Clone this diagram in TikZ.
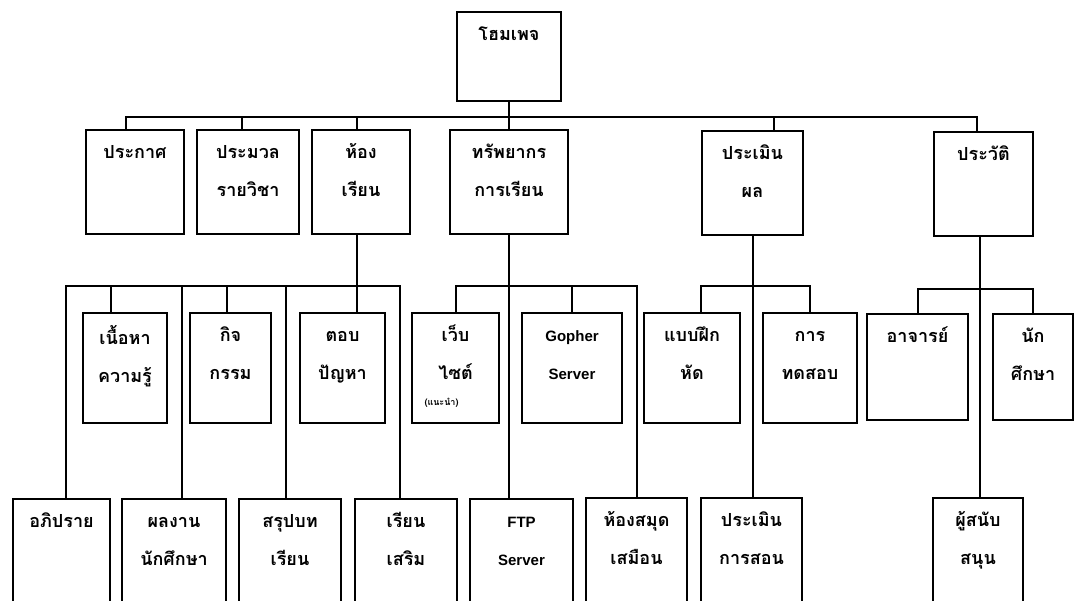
\documentclass[tikz,border=0pt]{standalone}
\usepackage{fontspec}
\setmainfont{Liberation Sans}
\newfontfamily\thaifont[Script=Thai]{Loma}
\usetikzlibrary{calc,positioning,fit}

\newcommand{\topstrut}{\rule{0pt}{16pt}}

\tikzset{
	box/.style={draw, line width=2pt, inner sep=0pt},
	thai/.style={font=\thaifont\bfseries\fontsize{18}{38}\selectfont, align=center, anchor=north, inner sep=0pt},
	latin/.style={font=\bfseries\fontsize{15}{38}\selectfont, align=center, anchor=north, inner sep=0pt},
	wire/.style={line width=2pt},
}

\begin{document}
\begin{tikzpicture}[x=1pt,y=-1pt]
				\useasboundingbox (0, 0) rectangle (1074, 601);
				\clip (0, 0) rectangle (1074, 601);
				% Bus levels
				\coordinate (busA) at (0, 117);
				\coordinate (busB) at (0, 286);
				\coordinate (busC) at (0, 289);

				% Home
				\node[box, fit={(457,12) (561,101)}] (home) {};
				\node[thai] (home-t) at ($(home.north)+(0,13)$) {\topstrut โฮมเพจ};

				% Main menu
				\node[box, fit={(86,130) (184,234)}] (prk) {};
				\node[box, fit={(197,130) (299,234)}] (pmv) {};
				\node[box, fit={(312,130) (410,234)}] (hrn) {};
				\node[box, fit={(450,130) (568,234)}] (trp) {};
				\node[box, fit={(702,131) (803,235)}] (pml) {};
				\node[box, fit={(934,132) (1033,236)}] (prv) {};
				\node[thai] (prk-t) at ($(prk.north)+(0,13)$) {\topstrut ประกาศ};
				\node[thai] (pmv-t) at ($(pmv.north)+(0,13)$) {\topstrut ประมวล\\รายวิชา};
				\node[thai] (hrn-t) at ($(hrn.north)+(0,13)$) {\topstrut ห้อง\\เรียน};
				\node[thai] (trp-t) at ($(trp.north)+(0,13)$) {\topstrut ทรัพยากร\\การเรียน};
				\node[thai] (pml-t) at ($(pml.north)+(0,13)$) {\topstrut ประเมิน\\ผล};
				\node[thai] (prv-t) at ($(prv.north)+(0,13)$) {\topstrut ประวัติ};

				% Second level
				\node[box, fit={(83,313) (167,423)}] (nth) {};
				\node[box, fit={(190,313) (271,423)}] (kjk) {};
				\node[box, fit={(300,313) (385,423)}] (tob) {};
				\node[box, fit={(412,313) (499,423)}] (web) {};
				\node[box, fit={(522,313) (622,423)}] (gph) {};
				\node[box, fit={(644,313) (740,423)}] (bfh) {};
				\node[box, fit={(763,313) (857,423)}] (tds) {};
				\node[box, fit={(867,314) (968,420)}] (ajn) {};
				\node[box, fit={(993,314) (1073,420)}] (nks) {};
				\node[thai] (nth-t) at ($(nth.north)+(0,13)$) {\topstrut เนื้อหา\\ความรู้};
				\node[thai] (kjk-t) at ($(kjk.north)+(0,13)$) {\topstrut กิจ\\กรรม};
				\node[thai] (tob-t) at ($(tob.north)+(0,13)$) {\topstrut ตอบ\\ปัญหา};
				\node[thai] (web-t) at ($(web.north)+(0,13)$) {\topstrut เว็บ\\ไซต์};
				\node[thai, font=\thaifont\bfseries\fontsize{9}{10}\selectfont] (web-s) at ($(web.north)+(-14,86)$) {(แนะนำ)};
				\node[latin] (gph-t) at ($(gph.north)+(0,13)$) {\topstrut Gopher\\Server};
				\node[thai] (bfh-t) at ($(bfh.north)+(0,13)$) {\topstrut แบบฝึก\\หัด};
				\node[thai] (tds-t) at ($(tds.north)+(0,13)$) {\topstrut การ\\ทดสอบ};
				\node[thai] (ajn-t) at ($(ajn.north)+(0,13)$) {\topstrut อาจารย์};
				\node[thai] (nks-t) at ($(nks.north)+(0,13)$) {\topstrut นัก\\ศึกษา};

				% Third level
				\node[box, fit={(13,499) (110,615)}] (apr) {};
				\node[box, fit={(122,499) (226,615)}] (phn) {};
				\node[box, fit={(239,499) (341,615)}] (srp) {};
				\node[box, fit={(355,499) (457,615)}] (rsm) {};
				\node[box, fit={(470,499) (573,615)}] (ftp) {};
				\node[box, fit={(586,498) (687,615)}] (lib) {};
				\node[box, fit={(701,498) (802,615)}] (pks) {};
				\node[box, fit={(933,498) (1023,615)}] (sup) {};
				\node[thai] (apr-t) at ($(apr.north)+(0,13)$) {\topstrut อภิปราย};
				\node[thai] (phn-t) at ($(phn.north)+(0,13)$) {\topstrut ผลงาน\\นักศึกษา};
				\node[thai] (srp-t) at ($(srp.north)+(0,13)$) {\topstrut สรุปบท\\เรียน};
				\node[thai] (rsm-t) at ($(rsm.north)+(0,13)$) {\topstrut เรียน\\เสริม};
				\node[latin] (ftp-t) at ($(ftp.north)+(0,13)$) {\topstrut FTP\\Server};
				\node[thai] (lib-t) at ($(lib.north)+(0,13)$) {\topstrut ห้องสมุด\\เสมือน};
				\node[thai] (pks-t) at ($(pks.north)+(0,13)$) {\topstrut ประเมิน\\การสอน};
				\node[thai] (sup-t) at ($(sup.north)+(0,13)$) {\topstrut ผู้สนับ\\สนุน};

				% Home to main menu
				\draw[wire] (home.south) -- (trp.north);
				\draw[wire]
					([xshift=-9pt]prk.north) |- ([xshift=-7pt]prv.north |- busA) -- ([xshift=-7pt]prv.north)
					;
				\foreach \n/\d in {pmv/-6, hrn/-4, pml/21}
					\draw[wire] ([xshift=\d pt]\n.north) -- ([xshift=\d pt]\n.north |- busA);

				% Classroom
				\draw[wire] ([xshift=-4pt]hrn.south) -- ([xshift=-4pt]hrn.south |- tob.north);
				\draw[wire]
					([xshift=4pt]apr.north) |- ([xshift=-6pt]rsm.north |- busB) -- ([xshift=-6pt]rsm.north)
					;
				\foreach \n/\d in {nth/-14, kjk/-4, phn/8, srp/-4}
					\draw[wire] ([xshift=\d pt]\n.north) -- ([xshift=\d pt]\n.north |- busB);

				% Resources
				\draw[wire] (trp.south) -- (trp.south |- ftp.north);
				\draw[wire] (web.north) |- (lib.north |- busB) -- (lib.north);
				\draw[wire] (gph.north) -- (gph.north |- busB);

				% Evaluation
				\draw[wire] (pml.south) -- (pml.south |- pks.north);
				\draw[wire] ([xshift=9pt]bfh.north) |- (tds.north |- busB) -- (tds.north);

				% Profile
				\draw[wire] ([xshift=-4pt]prv.south) -- ([xshift=-4pt]prv.south |- sup.north);
				\draw[wire] (ajn.north) |- (nks.north |- busC) -- (nks.north);
			\end{tikzpicture}
\end{document}
